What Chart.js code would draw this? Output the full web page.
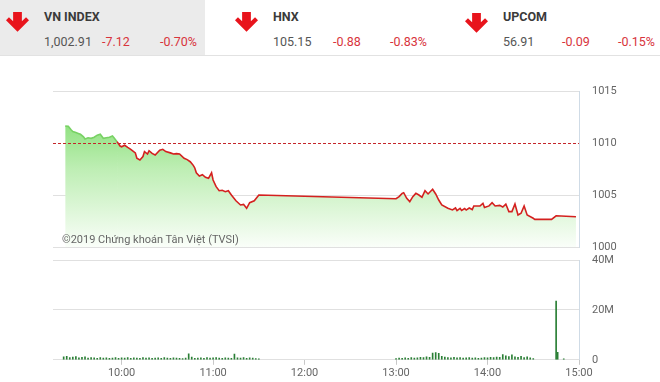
<!DOCTYPE html>
<html>
<head>
<meta charset="utf-8">
<script src="https://cdn.jsdelivr.net/npm/chart.js@4.4.1/dist/chart.umd.min.js"></script>
<style>
    html, body { margin: 0; padding: 0; background: #fff; }
    body { width: 660px; height: 382px; position: relative; overflow: hidden; font-family: Roboto, "Noto Sans", sans-serif; }
    .header { position: absolute; left: 0; top: 0; width: 660px; height: 55px; border-bottom: 1px solid #e2e2e2; }
    .cell { position: absolute; top: 0; height: 55px; }
    .cell.active { background: #ebebeb; }
    .arrow { position: absolute; top: 12px; width: 23px; height: 22px; }
    .name { position: absolute; top: 9px; font-size: 12.5px; font-weight: bold; color: #3a3a3a; }
    .num { position: absolute; top: 34px; font-size: 12.5px; color: #555; }
    .down { color: #d8343c; }
    .right { text-align: right; }
    canvas { position: absolute; left: 0; display: block; }
    #priceChart { top: 80px; }
    #volumeChart { top: 253px; }
    .copy { position: absolute; left: 62px; top: 233px; font-size: 11px; color: #666; }
</style>
</head>
<body>
<div class="header">
    <div class="cell active" style="left:0;width:205px;"></div>
    <svg class="arrow" style="left:6px" viewBox="0 0 21 20"><path d="M6.5 0h8v8.5l3.8-3.8 2.7 2.8L10.5 18 0 7.5l2.7-2.8 3.8 3.8z" fill="#e8141c"/></svg>
    <div class="name" style="left:44px">VN INDEX</div>
    <div class="num" style="left:44px">1,002.91</div>
    <div class="num down" style="left:102px">-7.12</div>
    <div class="num down right" style="left:146px;width:51px">-0.70%</div>

    <svg class="arrow" style="left:235px" viewBox="0 0 21 20"><path d="M6.5 0h8v8.5l3.8-3.8 2.7 2.8L10.5 18 0 7.5l2.7-2.8 3.8 3.8z" fill="#e8141c"/></svg>
    <div class="name" style="left:273px">HNX</div>
    <div class="num" style="left:273px">105.15</div>
    <div class="num down" style="left:333px">-0.88</div>
    <div class="num down right" style="left:376px;width:51px">-0.83%</div>

    <svg class="arrow" style="left:465px;top:13px" viewBox="0 0 21 20"><path d="M6.5 0h8v8.5l3.8-3.8 2.7 2.8L10.5 18 0 7.5l2.7-2.8 3.8 3.8z" fill="#e8141c"/></svg>
    <div class="name" style="left:503px">UPCOM</div>
    <div class="num" style="left:503px">56.91</div>
    <div class="num down" style="left:562px">-0.09</div>
    <div class="num down right" style="left:604px;width:51px">-0.15%</div>
</div>

<canvas id="priceChart" width="660" height="175"></canvas>
<canvas id="volumeChart" width="660" height="129"></canvas>
<div class="copy">©2019 Chứng khoán Tân Việt (TVSI)</div>

<script>
// Previous close of VN-Index (reference line)
const refPrice = 1010.03;

// Intraday VN-Index points
const priceTimes = [
    '9:23', '9:25', '9:27', '9:28', '9:30', '9:32', '9:33', '9:35', '9:36', '9:38',
    '9:40', '9:42', '9:44', '9:46', '9:48', '9:50', '9:52', '9:54', '9:55', '9:57',
    '9:59', '10:00', '10:02', '10:04', '10:06', '10:09', '10:10', '10:12', '10:14', '10:15',
    '10:17', '10:18', '10:20', '10:22', '10:25', '10:27', '10:29', '10:32', '10:34', '10:36',
    '10:38', '10:41', '10:43', '10:45', '10:47', '10:48', '10:49', '10:51', '10:53', '10:55',
    '10:57', '10:59', '11:00', '11:02', '11:04', '11:06', '11:08', '11:10', '11:12', '11:15',
    '11:18', '11:20', '11:22', '11:24', '11:27', '11:30',
    '13:00', '13:02', '13:04', '13:05', '13:07', '13:09', '13:11', '13:13', '13:15', '13:17',
    '13:19', '13:21', '13:24', '13:26', '13:28', '13:30', '13:34', '13:37', '13:39', '13:40',
    '13:42', '13:43', '13:45', '13:46', '13:48', '13:50', '13:51', '13:55', '13:57', '13:58',
    '14:01', '14:03', '14:05', '14:08', '14:10', '14:12', '14:14', '14:16', '14:18', '14:20',
    '14:22', '14:24', '14:26', '14:30', '14:31', '14:42', '14:45', '14:58'
];
const priceValues = [
    1011.63, 1011.60, 1011.25, 1011.10, 1011.00, 1010.90, 1010.84, 1010.60, 1010.38, 1010.50,
    1010.45, 1010.55, 1010.75, 1010.84, 1010.45, 1010.50, 1010.55, 1010.67, 1010.50, 1010.13,
    1009.71, 1009.64, 1009.78, 1009.58, 1009.39, 1009.05, 1008.53, 1008.37, 1008.70, 1009.17,
    1008.94, 1009.26, 1009.00, 1008.85, 1009.30, 1009.39, 1009.17, 1009.05, 1008.94, 1008.98,
    1008.94, 1008.53, 1008.40, 1008.20, 1007.85, 1007.60, 1007.14, 1006.83, 1006.95, 1006.70,
    1006.60, 1007.14, 1006.44, 1005.80, 1005.41, 1005.45, 1005.32, 1005.41, 1005.00, 1004.45,
    1004.04, 1004.10, 1003.72, 1004.26, 1004.45, 1005.00,
    1004.64, 1004.84, 1005.16, 1005.22, 1004.68, 1004.36, 1004.84, 1005.16, 1005.00, 1004.78,
    1005.41, 1005.10, 1005.55, 1005.10, 1004.52, 1004.04, 1003.72, 1003.56, 1003.75, 1003.50,
    1003.72, 1003.52, 1003.70, 1003.55, 1003.75, 1003.60, 1003.94, 1003.94, 1004.20, 1003.80,
    1003.95, 1004.26, 1003.94, 1004.00, 1003.85, 1004.13, 1003.40, 1003.40, 1004.13, 1003.08,
    1003.24, 1003.94, 1003.08, 1002.76, 1002.66, 1002.66, 1003.00, 1002.91
];

// Matched volume (millions of shares), morning then afternoon session
const volTimes = [
    '9:22', '9:24', '9:26', '9:28', '9:30', '9:32', '9:34', '9:36', '9:38', '9:40',
    '9:42', '9:44', '9:46', '9:48', '9:50', '9:52', '9:54', '9:56', '9:58', '10:00',
    '10:02', '10:04', '10:06', '10:08', '10:10', '10:12', '10:14', '10:16', '10:18', '10:20',
    '10:22', '10:24', '10:26', '10:28', '10:30', '10:32', '10:34', '10:36', '10:38', '10:40',
    '10:42', '10:44', '10:46', '10:48', '10:50', '10:52', '10:54', '10:56', '10:58', '11:00',
    '11:02', '11:04', '11:06', '11:08', '11:10', '11:12', '11:14', '11:16', '11:18', '11:20',
    '11:22', '11:24', '11:26', '11:28', '11:30',
    '13:00', '13:02', '13:04', '13:06', '13:08', '13:10', '13:12', '13:14', '13:16', '13:18',
    '13:20', '13:22', '13:24', '13:26', '13:28', '13:30', '13:32', '13:34', '13:36', '13:38',
    '13:40', '13:42', '13:44', '13:46', '13:48', '13:50', '13:52', '13:54', '13:56', '13:58',
    '14:00', '14:02', '14:04', '14:06', '14:08', '14:10', '14:12', '14:14', '14:16', '14:18',
    '14:20', '14:22', '14:24', '14:26', '14:28', '14:30',
    '14:45', '14:46', '14:50'
];
const volValues = [
    1.2, 1.4, 0.9, 1.1, 1.3, 0.8, 1.0, 1.2, 0.7, 0.9,
    0.8, 0.6, 0.9, 0.7, 0.8, 0.6, 0.7, 0.9, 0.6, 0.8,
    0.7, 0.9, 0.6, 0.8, 0.7, 0.6, 0.9, 0.7, 0.8, 0.6,
    0.7, 0.8, 0.6, 0.9, 0.7, 0.6, 0.8, 0.7, 0.6, 0.5,
    0.7, 2.4, 1.1, 0.6, 0.7, 0.8, 0.6, 0.9, 0.7, 0.8,
    0.9, 0.7, 0.6, 0.8, 0.7, 0.6, 2.3, 0.8, 0.7, 0.9,
    0.6, 0.8, 0.7, 0.5, 0.4,
    0.5, 0.7, 0.6, 0.8, 0.6, 0.9, 0.7, 0.8, 1.0, 0.9,
    1.2, 1.0, 2.7, 2.9, 2.6, 1.4, 1.1, 0.9, 0.8, 1.0,
    0.8, 0.9, 0.7, 0.8, 0.9, 0.7, 0.8, 0.6, 0.7, 0.9,
    0.8, 1.0, 0.9, 1.1, 1.0, 2.1, 1.6, 1.3, 2.0, 1.2,
    1.0, 1.4, 0.9, 1.2, 0.8, 0.5,
    23.5, 3.0, 0.4
];

// Axis ticks
const priceTicks = [1000, 1005, 1010, 1015];
const volTicks = [0, 20, 40];
const timeTicks = ['10:00', '11:00', '12:00', '13:00', '14:00', '15:00'];

// Session window shown on the x axis
const timeMin = '9:15';
const timeMax = '15:00';

let chartInstances = {};

/**
 * Convert "H:MM" to minutes after 9:00
 */
function toMinutes(str) {
    const [h, m] = str.split(':').map(Number);
    return (h - 9) * 60 + m;
}

/**
 * Convert minutes after 9:00 back to "HH:MM"
 */
function toLabel(min) {
    const h = 9 + Math.floor(min / 60);
    const m = Math.round(min % 60);
    return `${String(h).padStart(2, '0')}:${String(m).padStart(2, '0')}`;
}

const axisFont = { family: 'Roboto', size: 11 };
const axisColor = '#666';
const borderColor = '#cfdbe6';

/**
 * Fixed-width right axis so both charts line up
 */
function fixAxisWidth(scale) {
    scale.width = 81;
}

// Dashed line at the previous close
const refLinePlugin = {
    id: 'refLine',
    afterDatasetsDraw(chart) {
        const { ctx, chartArea, scales } = chart;
        const y = Math.round(scales.y.getPixelForValue(refPrice)) + 0.5;
        ctx.save();
        ctx.strokeStyle = '#c4262a';
        ctx.lineWidth = 1;
        ctx.setLineDash([3, 2]);
        ctx.beginPath();
        ctx.moveTo(chartArea.left, y);
        ctx.lineTo(chartArea.right, y);
        ctx.stroke();
        ctx.restore();
    }
};

// Right-hand value axis: gap to the labels comes from an invisible tick
// (ticks.padding would also pad the plot top and bottom)
function valueAxis(ticksList, format) {
    return {
        position: 'right',
        min: ticksList[0],
        max: ticksList[ticksList.length - 1],
        afterFit: fixAxisWidth,
        afterBuildTicks: scale => { scale.ticks = ticksList.map(v => ({ value: v })); },
        border: { display: true, color: borderColor },
        grid: {
            drawTicks: true,
            tickLength: 13,
            tickColor: 'rgba(0,0,0,0)',
            color: c => c.tick && c.tick.value === 1010 ? 'rgba(0,0,0,0)' : '#e0e0e0'
        },
        ticks: { padding: 0, color: axisColor, font: axisFont, callback: format }
    };
}

function renderPriceChart() {
    try {
        const canvas = document.getElementById('priceChart');
        const points = priceTimes.map((t, i) => ({ x: toMinutes(t), y: priceValues[i] }));

        chartInstances.price = new Chart(canvas, {
            type: 'line',
            data: {
                datasets: [{
                    data: points,
                    borderColor: '#d4201f',
                    borderWidth: 1.6,
                    pointRadius: 0,
                    tension: 0,
                    fill: 'start',
                    backgroundColor: function(context) {
                        const { ctx, chartArea } = context.chart;
                        if (!chartArea) return 'rgba(140,225,120,0.6)';
                        const g = ctx.createLinearGradient(0, chartArea.top, 0, chartArea.bottom);
                        g.addColorStop(0, 'rgb(110,216,90)');
                        g.addColorStop(0.5, 'rgb(190,238,180)');
                        g.addColorStop(1, 'rgb(250,254,249)');
                        return g;
                    },
                    segment: {
                        borderColor: ctx => (ctx.p0.parsed.y > refPrice && ctx.p1.parsed.y > refPrice) ? 'rgb(120,210,100)' : undefined
                    }
                }]
            },
            options: {
                responsive: false,
                animation: false,
                layout: { padding: { left: 53, top: 11, bottom: 8 } },
                scales: {
                    x: {
                        type: 'linear',
                        min: toMinutes(timeMin),
                        max: toMinutes(timeMax),
                        display: false
                    },
                    y: valueAxis(priceTicks, v => String(v))
                },
                plugins: { legend: { display: false }, tooltip: { enabled: false } }
            },
            plugins: [refLinePlugin]
        });
    } catch (err) {
        console.error('Error rendering price chart:', err);
    }
}

function renderVolumeChart() {
    try {
        const canvas = document.getElementById('volumeChart');
        const points = volTimes.map((t, i) => ({ x: toMinutes(t), y: volValues[i] }));

        chartInstances.volume = new Chart(canvas, {
            type: 'bar',
            data: {
                datasets: [{
                    data: points,
                    backgroundColor: '#2a7f35',
                    barThickness: 1,
                    borderWidth: 0
                }]
            },
            options: {
                responsive: false,
                animation: false,
                layout: { padding: { left: 53, top: 7 } },
                scales: {
                    x: {
                        type: 'linear',
                        offset: false,
                        min: toMinutes(timeMin),
                        max: toMinutes(timeMax),
                        afterBuildTicks: scale => { scale.ticks = timeTicks.map(t => ({ value: toMinutes(t) })); },
                        border: { display: false },
                        grid: { offset: false, drawOnChartArea: false, drawTicks: true, tickLength: 5, color: '#c8c8c8' },
                        ticks: {
                            color: axisColor,
                            font: axisFont,
                            padding: 2,
                            maxRotation: 0,
                            callback: v => toLabel(v)
                        }
                    },
                    y: valueAxis(volTicks, v => v === 0 ? '0' : v + 'M')
                },
                plugins: { legend: { display: false }, tooltip: { enabled: false } }
            }
        });
    } catch (err) {
        console.error('Error rendering volume chart:', err);
    }
}

renderPriceChart();
renderVolumeChart();
</script>
</body>
</html>
